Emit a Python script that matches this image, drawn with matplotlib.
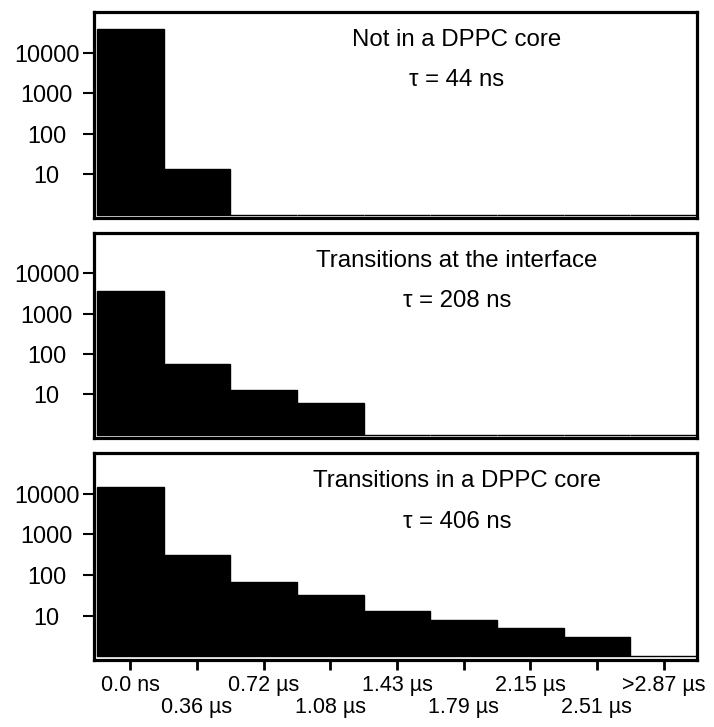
import numpy as np
import matplotlib
matplotlib.use("Agg")
import matplotlib.pyplot as plt

plt.rcParams['font.family'] = ['Liberation Sans', 'DejaVu Sans']

# residence time bins
bin_labels = ["0.0 ns", "0.36 µs", "0.72 µs", "1.08 µs", "1.43 µs",
              "1.79 µs", "2.15 µs", "2.51 µs", ">2.87 µs"]

# counts per bin, 0 = empty bin
not_in_core = [38000, 13, 0, 0, 0, 0, 0, 0, 0]
interface = [3600, 57, 13, 6, 0, 0, 0, 0, 0]
in_core = [14500, 310, 69, 32, 13, 8, 5, 3, 0]

titles = ["Not in a DPPC core", "Transitions at the interface", "Transitions in a DPPC core"]
taus = ["τ = 44 ns", "τ = 208 ns", "τ = 406 ns"]

series = [not_in_core, interface, in_core]

fig = plt.figure(figsize=(7.14, 7.27), dpi=100)

# panel extents in figure fraction (bottom, top)
rows = [(0.700, 0.9835), (0.3975, 0.6795), (0.0922, 0.3769)]
left, right = 0.1317, 0.976

base = 1.0
x = np.arange(len(bin_labels))

for i, (vals, (b, t)) in enumerate(zip(series, rows)):
    ax = fig.add_axes([left, b, right - left, t - b])
    vals = np.array(vals, dtype=float)
    heights = np.clip(vals - base, 0, None)
    ax.bar(x, heights, bottom=base, width=1.0, color='black',
           edgecolor='black', linewidth=1.0, align='center')
    ax.set_yscale('log')
    ax.set_ylim(0.82, 1.0e5)
    ax.set_xlim(-0.545, 8.5)
    ax.minorticks_off()
    ax.set_yticks([10, 100, 1000, 10000], labels=["10", "100", "1000", "10000"],
                  ha='center', fontsize=16.8)
    ax.tick_params(axis='y', direction='out', length=8, width=1.5, pad=26)
    for sp in ax.spines.values():
        sp.set_linewidth(2.3)

    if i < 2:
        ax.set_xticks([])
    else:
        ax.set_xticks(x, labels=bin_labels, fontsize=15.5)
        ax.tick_params(axis='x', direction='out', length=7, width=2, pad=4)
        for j, tk in enumerate(ax.xaxis.get_major_ticks()):
            if j % 2 == 1:
                tk.set_pad(20)

    ax.text(0.602, 0.865, titles[i], transform=ax.transAxes,
            ha='center', va='center', fontsize=17.3)
    ax.text(0.602, 0.668, taus[i], transform=ax.transAxes,
            ha='center', va='center', fontsize=17.3)

fig.savefig("out.png", dpi=100)
